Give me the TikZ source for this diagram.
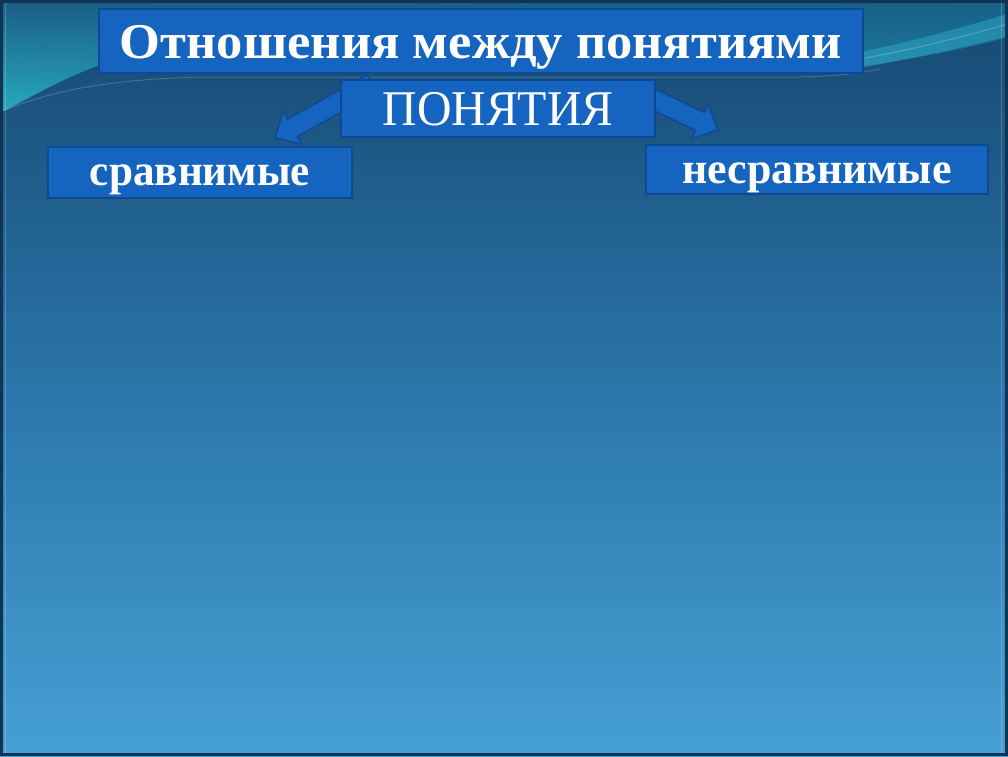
\documentclass[tikz,border=0pt]{standalone}
\usepackage{fontspec}
\setmainfont{Liberation Serif}
\usetikzlibrary{calc,shadings}
\definecolor{bgtop}{RGB}{22,72,112}
\definecolor{bgmid}{RGB}{42,116,168}
\definecolor{bgbot}{RGB}{70,160,212}
\definecolor{boxblue}{RGB}{21,101,192}
\definecolor{boxedge}{RGB}{14,74,148}
\definecolor{tealA}{RGB}{26,92,132}
\definecolor{tealB}{RGB}{40,172,192}
\definecolor{tealC}{RGB}{24,96,134}
\definecolor{tealD}{RGB}{30,130,165}
\definecolor{bandlight}{RGB}{45,165,195}
\definecolor{framedark}{RGB}{16,52,86}
\tikzset{
  boxnode/.style={fill=boxblue, draw=boxedge, line width=1.5pt, inner xsep=0pt, inner ysep=0pt, text=white},
  blockarr/.style={fill=boxblue, draw=boxedge, line width=1.5pt, line join=miter},
}
\newcommand{\blockarrow}[2]{%
  \path ($(#2)!20pt!(#1)$) coordinate (hb);
  \filldraw[blockarr] ($(#1)!10pt!90:(#2)$) -- ($(hb)!10pt!-90:(#1)$) -- ($(hb)!19pt!-90:(#1)$) -- (#2)
     -- ($(hb)!19pt!90:(#1)$) -- ($(hb)!10pt!90:(#1)$) -- ($(#1)!10pt!-90:(#2)$) -- cycle;
}
\begin{document}
\begin{tikzpicture}[x=1pt,y=-1pt]
\useasboundingbox (0,0) rectangle (1008,756);
% background
\shade[top color=bgtop, bottom color=bgbot, middle color=bgmid] (0,0) rectangle (1008,756);
% teal swoosh region
\begin{scope}
  \clip (0,0) -- (0,113) .. controls (40,92) and (75,72) .. (110,62) -- (860,66)
        .. controls (920,58) and (970,48) .. (1008,37) -- (1008,0) -- cycle;
  \shade[upper left=tealA, lower left=tealB, upper right=tealC, lower right=tealD] (0,0) rectangle (1008,115);
\end{scope}
\fill[bandlight, opacity=0.55] (860,68) .. controls (925,56) and (970,46) .. (1008,36)
      -- (1008,14) .. controls (960,28) and (910,42) .. (860,52) -- cycle;
\draw[white, opacity=0.22, line width=1pt] (865,58) .. controls (920,48) and (965,36) .. (1008,24);
\draw[white, opacity=0.18, line width=1pt] (5,110) .. controls (50,92) and (100,80) .. (200,77) -- (800,77)
      .. controls (840,76) and (860,73) .. (880,69);
% frame
\draw[framedark, line width=3pt] (1.5,1.5) rectangle (1006.5,754.5);
\draw[white, opacity=0.2, line width=1pt] (5,3) -- (5,753);
\draw[white, opacity=0.2, line width=1pt] (1001,3) -- (1001,753);
% arrows (tails hidden behind the ПОНЯТИЯ box)
\coordinate (la) at (372,83.5);
\coordinate (lt) at (275,137.5);
\coordinate (ra) at (635,90.5);
\coordinate (rt) at (718,130);
\blockarrow{la}{lt}
\blockarrow{ra}{rt}
% boxes
\node[boxnode, minimum width=764pt, text height=49pt, text depth=15pt] (title) at (481,41)
  {\resizebox{722pt}{\height}{\fontsize{50}{50}\selectfont\bfseries Отношения между понятиями}};
\node[boxnode, minimum width=314pt, text height=45pt, text depth=12pt] (pon) at (498,108.5)
  {\resizebox{231pt}{\height}{\fontsize{50}{50}\selectfont ПОНЯТИЯ}};
\node[boxnode, minimum width=304pt, text height=38pt, text depth=13pt] (sr) at (200,172.5)
  {\resizebox{220pt}{\height}{\fontsize{44}{44}\selectfont\bfseries сравнимые}};
\node[boxnode, minimum width=342pt, text height=38pt, text depth=11pt] (nesr) at (817,169.5)
  {\resizebox{269pt}{\height}{\fontsize{44}{44}\selectfont\bfseries несравнимые}};
\end{tikzpicture}
\end{document}
